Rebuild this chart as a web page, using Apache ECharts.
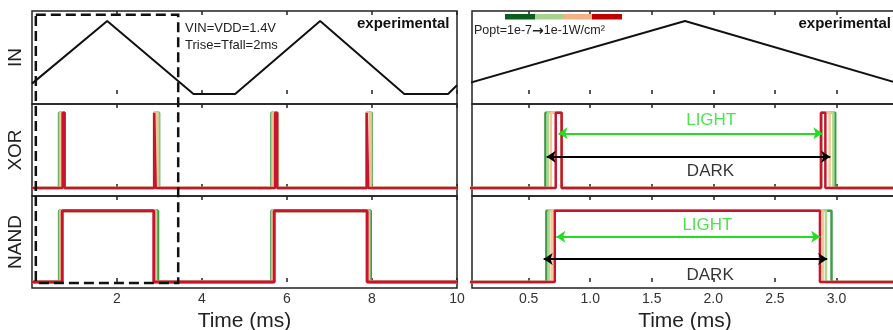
<!DOCTYPE html>
<html><head><meta charset="utf-8">
<script src="https://cdn.jsdelivr.net/npm/echarts@6/dist/echarts.min.js"></script>
<style>html,body{margin:0;padding:0;background:#fff}#c{width:893px;height:330px}</style>
</head><body><div id="c"></div>
<script>
// ---- data ----
const traceLabels = ['1e-7', '1e-5', '1e-3', '1e-1'];
const traceColors = ['#3f9b4a', '#a9d88f', '#f5c795', '#c8142f'];
const inTime = [0, 1.77, 3.80, 4.78, 6.78, 8.76, 9.79, 10];
const inVolt = [0.20, 1.40, 0.00, 0.00, 1.40, 0.00, 0.00, 0.17];
// XOR: rise/fall pairs per trace (ms)
const xorEdges = [
  [0.636, 0.768, 2.875, 2.990, 5.635, 5.770, 7.875, 7.990],
  [0.655, 0.768, 2.875, 2.975, 5.655, 5.770, 7.875, 7.975],
  [0.680, 0.768, 2.875, 2.945, 5.680, 5.770, 7.875, 7.945],
  [0.720, 0.768, 2.875, 2.910, 5.720, 5.770, 7.875, 7.910]
];
// NAND: rise/fall per trace (ms)
const nandEdges = [
  [0.644, 2.960, 5.640, 7.965],
  [0.663, 2.915, 5.660, 7.930],
  [0.687, 2.890, 5.680, 7.905],
  [0.712, 2.866, 5.700, 7.885]
];
const leftTicks = [2, 4, 6, 8, 10];
const rightTicks = [0.5, 1.0, 1.5, 2.0, 2.5, 3.0];
const panelNames = ['IN', 'XOR', 'NAND'];
// arrows: [x1, x2, y]
const xorLight = [0.743, 2.886, 0.726];
const xorDark = [0.646, 2.950, 0.416];
const nandLight = [0.725, 2.868, 0.635];
const nandDark = [0.622, 2.925, 0.323];
// arrow labels: [x, y]
const xorLightText = [1.983, 0.894];
const xorDarkText = [1.977, 0.216];
const nandLightText = [1.952, 0.800];
const nandDarkText = [1.974, 0.098];
// zoom box (left panel) in data units
const boxX = [0.09, 3.44];
const boxTopIn = 1.52;
const boxBottomNand = -0.014;

// ---- build ----
const FONT = 'Liberation Sans, Arial, Helvetica, sans-serif';
function steps(edges, x0, x1) {
  const pts = [[x0, 0]];
  let lvl = 0;
  edges.forEach(e => { pts.push([e, lvl]); lvl = 1 - lvl; pts.push([e, lvl]); });
  pts.push([x1, lvl]);
  return pts;
}
const tops = [11, 104, 196], heights = [93, 92, 92];
const yRanges = [[-0.19, 1.59], [-0.106, 1.116], [-0.084, 1.206]];
const grids = [], xAxes = [], yAxes = [], series = [];
for (let side = 0; side < 2; side++) {
  for (let p = 0; p < 3; p++) {
    grids.push({ left: side ? 472 : 32, top: tops[p], width: side ? 426 : 425, height: heights[p],
      show: true, borderColor: '#222', borderWidth: 1.5, containLabel: false, outerBoundsMode: 'none' });
  }
}
for (let g = 0; g < 6; g++) {
  const side = g >= 3 ? 1 : 0, p = g % 3;
  const ticks = side ? rightTicks.concat([3.5]) : leftTicks;
  const base = {
    type: 'value', gridIndex: g, min: side ? 0.04 : 0, max: side ? 3.5 : 10,
    splitLine: { show: false }, axisLine: { show: false },
    axisTick: { show: true, inside: true, length: 4, customValues: ticks, lineStyle: { color: '#222', width: 1.5 } }
  };
  xAxes.push(Object.assign({}, base, {
    position: 'bottom',
    axisLabel: { show: p === 2, customValues: side ? rightTicks : leftTicks, color: '#333', fontSize: 14, fontFamily: FONT, margin: 4,
      formatter: v => side ? v.toFixed(1) : String(v) },
    name: p === 2 ? 'Time (ms)' : '', nameLocation: 'middle', nameGap: 23,
    nameTextStyle: { fontSize: 21, color: '#222', fontFamily: FONT, verticalAlign: 'top' }
  }));
}
for (let g = 0; g < 6; g++) {
  const side = g >= 3 ? 1 : 0;
  xAxes.push({
    type: 'value', gridIndex: g, position: 'top', min: side ? 0.04 : 0, max: side ? 3.5 : 10,
    splitLine: { show: false }, axisLine: { show: false }, axisLabel: { show: false },
    axisTick: { show: true, inside: true, length: 4, customValues: side ? rightTicks.concat([3.5]) : leftTicks, lineStyle: { color: '#222', width: 1.5 } }
  });
}
for (let g = 0; g < 6; g++) {
  const side = g >= 3 ? 1 : 0, p = g % 3;
  yAxes.push({
    type: 'value', gridIndex: g, min: yRanges[p][0], max: yRanges[p][1],
    axisLine: { show: false }, axisTick: { show: false }, axisLabel: { show: false }, splitLine: { show: false },
    name: side ? '' : panelNames[p], nameLocation: 'middle', nameRotate: 90, nameGap: 7,
    nameTextStyle: { fontSize: 19, color: '#222', fontFamily: FONT }
  });
}
const inData = inTime.map((t, i) => [t, inVolt[i]]);
for (let side = 0; side < 2; side++) {
  const g0 = side * 3;
  series.push({ type: 'line', xAxisIndex: g0, yAxisIndex: g0, data: inData, showSymbol: false, symbol: 'none',
    lineStyle: { color: '#111', width: 2 }, silent: true, animation: false });
  for (let k = 0; k < 4; k++) {
    series.push({ name: traceLabels[k], type: 'line', xAxisIndex: g0 + 1, yAxisIndex: g0 + 1, data: steps(xorEdges[k], 0, 10),
      symbol: 'none', lineStyle: { color: traceColors[k], width: side ? 2.5 : 2.5 }, silent: true, animation: false });
    series.push({ name: traceLabels[k], type: 'line', xAxisIndex: g0 + 2, yAxisIndex: g0 + 2, data: steps(nandEdges[k], 0, 10),
      symbol: 'none', lineStyle: { color: traceColors[k], width: side ? 2.5 : 3 }, silent: true, animation: false });
  }
}
function arrowLine(a, color) {
  return [{ coord: [a[0], a[2]], lineStyle: { color: color, width: 2, type: 'solid' } }, { coord: [a[1], a[2]] }];
}
const mlBase = { silent: true, symbol: ['arrow', 'arrow'], symbolSize: [9, 9], label: { show: false }, animation: false };
series.push({ type: 'line', xAxisIndex: 4, yAxisIndex: 4, data: [], markLine: Object.assign({}, mlBase, { data: [arrowLine(xorLight, '#22dd22'), arrowLine(xorDark, '#000')] }) });
series.push({ type: 'line', xAxisIndex: 5, yAxisIndex: 5, data: [], markLine: Object.assign({}, mlBase, { data: [arrowLine(nandLight, '#22dd22'), arrowLine(nandDark, '#000')] }) });
function textSeries(g, pt, txt, color) {
  return { type: 'scatter', xAxisIndex: g, yAxisIndex: g, data: [pt], symbolSize: 1, itemStyle: { color: 'rgba(0,0,0,0)' }, silent: true, animation: false,
    label: { show: true, position: 'inside', formatter: txt, color: color, fontSize: 17, fontFamily: FONT } };
}
series.push(textSeries(4, xorLightText, 'LIGHT', '#22dd22'));
series.push(textSeries(4, xorDarkText, 'DARK', '#000'));
series.push(textSeries(5, nandLightText, 'LIGHT', '#22dd22'));
series.push(textSeries(5, nandDarkText, 'DARK', '#000'));

const chart = echarts.init(document.getElementById('c'), null, { renderer: 'canvas' });
chart.setOption({ animation: false, backgroundColor: '#fff', grid: grids, xAxis: xAxes, yAxis: yAxes, series: series });

const tl = chart.convertToPixel({ xAxisIndex: 0, yAxisIndex: 0 }, [boxX[0], boxTopIn]);
const br = chart.convertToPixel({ xAxisIndex: 2, yAxisIndex: 2 }, [boxX[1], boxBottomNand]);
const barX = [505, 535, 564, 592, 622];
const barColors = ['#0b5e1e', '#a9d18e', '#f4b183', '#c00000'];
const graphic = [
  { type: 'rect', shape: { x: tl[0], y: tl[1], width: br[0] - tl[0], height: br[1] - tl[1] },
    style: { fill: null, stroke: '#111', lineWidth: 2.5, lineDash: [10, 5] }, z: 100 },
  { type: 'text', left: 185, top: 22, style: { text: 'VIN=VDD=1.4V', font: '13px ' + FONT, fill: '#222' }, z: 100 },
  { type: 'text', left: 185, top: 39, style: { text: 'Trise=Tfall=2ms', font: '13px ' + FONT, fill: '#222' }, z: 100 },
  { type: 'text', left: 357, top: 16, style: { text: 'experimental', font: 'bold 15px ' + FONT, fill: '#111' }, z: 100 },
  { type: 'text', right: 2, top: 16, style: { text: 'experimental', font: 'bold 15px ' + FONT, fill: '#111' }, z: 100 },
  { type: 'text', left: 474, top: 24, style: {
      text: '{a|Popt=1e-7}{b|\u2192}{a|1e-1W/cm\u00b2}',
      rich: { a: { font: '12.5px ' + FONT, fill: '#222' }, b: { font: 'bold 14px DejaVu Sans', fill: '#222' } } }, z: 100 }
];
for (let i = 0; i < 4; i++) {
  graphic.push({ type: 'rect', shape: { x: barX[i], y: 14, width: barX[i + 1] - barX[i], height: 5.5 }, style: { fill: barColors[i] }, z: 100 });
}
chart.setOption({ graphic: graphic });
</script></body></html>
